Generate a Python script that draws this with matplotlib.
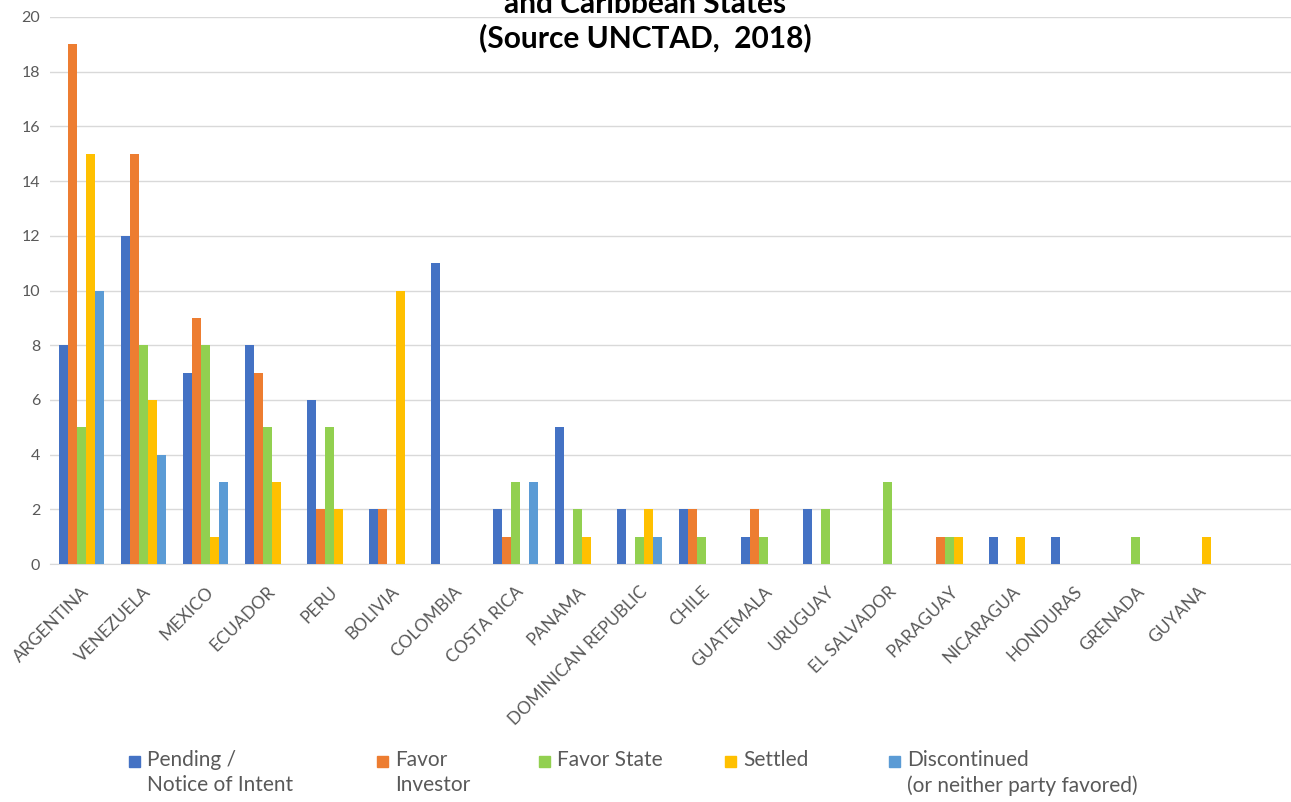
"""Investment arbitration outcomes per Latin American and Caribbean state (UNCTAD 2018)."""
import matplotlib

matplotlib.use("Agg")
import matplotlib.pyplot as plt  # noqa: E402
import numpy as np  # noqa: E402
from matplotlib.patches import Rectangle  # noqa: E402

countries = [
    "ARGENTINA", "VENEZUELA", "MEXICO", "ECUADOR", "PERU", "BOLIVIA", "COLOMBIA",
    "COSTA RICA", "PANAMA", "DOMINICAN REPUBLIC", "CHILE", "GUATEMALA", "URUGUAY",
    "EL SALVADOR", "PARAGUAY", "NICARAGUA", "HONDURAS", "GRENADA", "GUYANA",
]
pending = [8, 12, 7, 8, 6, 2, 11, 2, 5, 2, 2, 1, 2, 0, 0, 1, 1, 0, 0]
favor_investor = [19, 15, 9, 7, 2, 2, 0, 1, 0, 0, 2, 2, 0, 0, 1, 0, 0, 0, 0]
favor_state = [5, 8, 8, 5, 5, 0, 0, 3, 2, 1, 1, 1, 2, 3, 1, 0, 0, 1, 0]
settled = [15, 6, 1, 3, 2, 10, 0, 0, 1, 2, 0, 0, 0, 0, 1, 1, 0, 0, 1]
discontinued = [10, 4, 3, 0, 0, 0, 0, 3, 0, 1, 0, 0, 0, 0, 0, 0, 0, 0, 0]

series = [
    ("Pending /\nNotice of Intent", pending, "#4472C4"),
    ("Favor\nInvestor", favor_investor, "#ED7D31"),
    ("Favor State", favor_state, "#92D050"),
    ("Settled", settled, "#FFC000"),
    ("Discontinued\n(or neither party favored)", discontinued, "#5B9BD5"),
]

plt.rcParams["font.family"] = ["Lato", "DejaVu Sans"]

fig = plt.figure(figsize=(12.91, 8.02), dpi=100)
ax = fig.add_axes([50 / 1291, 238 / 802, 1241 / 1291, 547 / 802])

x = np.arange(len(countries))
width = 0.145
for i, (label, values, color) in enumerate(series):
    ax.bar(x + (i - 2) * width, values, width, color=color, label=label, zorder=3)

ax.set_xlim(-0.5, len(countries) + 0.5)
ax.set_ylim(0, 20)
ax.set_yticks(range(0, 21, 2))
ax.yaxis.grid(True, color="#D9D9D9", linewidth=1, zorder=0)
ax.set_axisbelow(True)
for side in ["left", "right", "top"]:
    ax.spines[side].set_visible(False)
ax.spines["bottom"].set_color("#D9D9D9")
ax.tick_params(axis="both", length=0, colors="#595959")
ax.tick_params(axis="y", labelsize=11.5, pad=7)
ax.set_xticks(x)
ax.set_xticklabels(countries, rotation=45, ha="right", rotation_mode="anchor", fontsize=12.5)
ax.tick_params(axis="x", pad=14)

fig.text(0.5, 1.0 - 4 / 802, "and Caribbean States", ha="center", va="center",
         fontsize=21.5, fontweight="bold", color="#000000")
fig.text(0.5, 1.0 - 38 / 802, "(Source UNCTAD,  2018)", ha="center", va="center",
         fontsize=21.5, fontweight="bold", color="#000000")

# legend drawn by hand so the entries sit where the original spreadsheet put them
legend_x = [129, 377, 539, 725, 889]
for (label, _, color), lx in zip(series, legend_x):
    fig.patches.append(Rectangle((lx / 1291, 1 - 767 / 802), 11 / 1291, 11 / 802,
                                 transform=fig.transFigure, color=color))
    fig.text((lx + 18) / 1291, 1 - 750 / 802, label, ha="left", va="top",
             fontsize=15, color="#595959", linespacing=1.3)

fig.savefig("out.png", dpi=100)
